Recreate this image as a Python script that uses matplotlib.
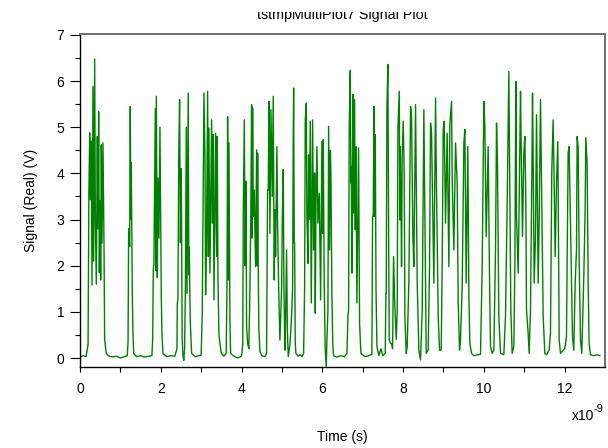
import numpy as np
import matplotlib
matplotlib.use("Agg")
import matplotlib.pyplot as plt
from matplotlib.patches import Rectangle

# Signal trace (time in ns, signal in V)
t_ns = [
    0.0, 0.08, 0.15, 0.19,
    0.2, 0.22, 0.24, 0.256, 0.28, 0.297, 0.322, 0.338, 0.363, 0.38, 0.404, 0.429, 0.445,
    0.462, 0.479, 0.495, 0.512, 0.528, 0.545, 0.569, 0.594, 0.61, 0.65, 0.7, 0.8, 0.9,
    1.0, 1.1, 1.17, 1.19,
    1.205, 1.23, 1.245, 1.258, 1.27, 1.295, 1.31, 1.33, 1.4, 1.5, 1.6, 1.7, 1.78, 1.8,
    1.815, 1.83, 1.865, 1.875, 1.89, 1.914, 1.93, 1.955, 1.98, 2.013, 2.03, 2.055, 2.15,
    2.25, 2.35, 2.4,
    2.41, 2.425, 2.445, 2.466, 2.485, 2.508, 2.53, 2.55, 2.57, 2.59,
    2.61, 2.632, 2.65, 2.68, 2.695, 2.706, 2.73, 2.764, 2.85, 2.95, 3.0,
    3.028, 3.053, 3.069, 3.094, 3.11, 3.135, 3.16, 3.177, 3.193, 3.218, 3.259, 3.276, 3.3,
    3.317, 3.358, 3.383, 3.399, 3.416, 3.44, 3.465, 3.5, 3.56, 3.62,
    3.64, 3.655, 3.672, 3.688, 3.713, 3.73, 3.8, 3.9, 4.0, 4.03,
    4.043, 4.068, 4.09, 4.109, 4.125, 4.15, 4.18, 4.208, 4.23, 4.249, 4.262, 4.274, 4.29,
    4.315, 4.348, 4.373, 4.39, 4.398, 4.414, 4.43, 4.455, 4.5, 4.58, 4.62,
    4.645, 4.662, 4.678, 4.703, 4.728, 4.76, 4.785, 4.81, 4.827, 4.843, 4.876, 4.893, 4.92,
    4.95, 4.975, 4.992, 5.01, 5.033, 5.05, 5.074, 5.09, 5.115, 5.135, 5.157, 5.2, 5.239,
    5.265, 5.28, 5.29, 5.305, 5.314, 5.33, 5.347, 5.4, 5.45, 5.5, 5.537,
    5.562, 5.578, 5.603, 5.619, 5.644, 5.66, 5.68, 5.702, 5.727, 5.743, 5.76, 5.784, 5.809,
    5.826, 5.845, 5.867, 5.892, 5.925, 5.958, 5.99, 6.007, 6.024, 6.048, 6.073, 6.098,
    6.114, 6.139, 6.156, 6.18, 6.2, 6.213, 6.238, 6.26, 6.279, 6.35, 6.45, 6.55, 6.61,
    6.634, 6.651, 6.667, 6.692, 6.708, 6.717, 6.733, 6.758, 6.774, 6.799, 6.816, 6.832,
    6.857, 6.882, 6.898, 6.923, 6.956, 7.05, 7.15, 7.228,
    7.245, 7.261, 7.278, 7.294, 7.311, 7.33, 7.352, 7.4, 7.45, 7.5, 7.558,
    7.575, 7.583, 7.6, 7.624, 7.641, 7.657, 7.69, 7.723, 7.74, 7.764, 7.79, 7.83, 7.855,
    7.872, 7.905, 7.921, 7.93, 7.954, 7.962, 7.979, 8.003, 8.028, 8.045, 8.078, 8.102,
    8.144, 8.185, 8.21, 8.243, 8.267, 8.309, 8.325, 8.35, 8.391, 8.432, 8.474, 8.498,
    8.515, 8.54, 8.573, 8.622, 8.655, 8.68, 8.705, 8.738, 8.762, 8.804, 8.828, 8.87,
    8.903, 8.944, 8.969, 8.993, 9.018, 9.051, 9.092, 9.134, 9.158, 9.2, 9.216, 9.257,
    9.299, 9.34, 9.365, 9.398, 9.422, 9.464, 9.505, 9.53, 9.563, 9.604, 9.629, 9.653,
    9.695, 9.752, 9.85, 9.917, 9.959, 10.0, 10.025, 10.058, 10.107, 10.14, 10.165,
    10.206, 10.248, 10.289, 10.314, 10.338, 10.371, 10.413, 10.495, 10.536, 10.578,
    10.619, 10.644, 10.668, 10.701, 10.742, 10.767, 10.792, 10.808, 10.85, 10.874,
    10.908, 10.924, 10.957, 10.99, 11.015, 11.04, 11.056, 11.097, 11.122, 11.155,
    11.188, 11.205, 11.221, 11.246, 11.279, 11.304, 11.345, 11.37, 11.403, 11.427,
    11.469, 11.51, 11.551, 11.617, 11.65, 11.683, 11.716, 11.741, 11.766, 11.799,
    11.832, 11.865, 11.898, 11.964, 12.005, 12.046, 12.087, 12.112, 12.145, 12.195,
    12.228, 12.261, 12.294, 12.31, 12.335, 12.36, 12.393, 12.426, 12.475, 12.508,
    12.525, 12.558, 12.583, 12.607, 12.64, 12.72, 12.8, 12.87,
]
signal_v = [
    0.02, 0.05, 0.03, 0.25,
    0.3, 3.6, 4.88, 3.43, 4.7, 1.58, 5.88, 2.1, 6.48, 3.0, 1.6, 4.8, 2.8,
    5.34, 1.85, 3.4, 1.69, 4.62, 2.49, 4.66, 2.49, 0.4, 0.1, 0.05, 0.02, 0.04,
    0.0, 0.03, 0.05, 0.35,
    2.8, 2.42, 5.45, 3.0, 4.23, 1.4, 0.6, 0.1, 0.03, 0.05, 0.02, 0.04, 0.05, 0.4,
    1.9, 2.06, 5.4, 1.9, 5.67, 1.74, 3.9, 2.6, 5.0, 1.34, 0.5, 0.1, 0.03,
    0.05, 0.04, 0.2,
    1.2, 1.26, 4.4, 5.6, 2.5, 4.1, 0.4, 0.05, -0.05, 0.2,
    1.55, 5.0, 1.4, 5.74, 1.8, 2.4, 0.8, 0.1, 0.03, 0.05, 0.06,
    1.0, 3.93, 5.74, 4.4, 1.37, 2.85, 5.78, 2.2, 4.98, 1.84, 5.16, 2.92, 4.84,
    1.26, 4.87, 2.2, 4.8, 1.76, 0.5, 0.32, 0.1, 0.04, 0.1,
    1.6, 5.23, 1.69, 4.66, 0.8, 0.1, 0.05, 0.0, 0.04, 0.3,
    3.07, 5.16, 2.0, 3.83, 0.68, 0.32, 0.2, 1.48, 3.2, 5.49, 2.6, 5.42, 3.07,
    3.64, 1.98, 4.51, 2.0, 4.44, 1.91, 0.6, 0.15, 0.05, 0.03, 0.1,
    3.64, 3.64, 5.56, 2.7, 5.38, 3.5, 5.67, 1.69, 3.21, 2.2, 4.58, 2.92, 1.5,
    0.39, 1.0, 1.48, 3.0, 4.08, 1.5, 0.17, 0.8, 2.34, 0.6, 0.03, 0.3, 0.9,
    1.55, 4.77, 5.85, 2.49, 2.5, 0.32, 0.1, 0.04, 0.07, 0.03, 0.1,
    1.55, 5.16, 5.52, 3.07, 2.05, 4.4, 3.0, 5.13, 1.19, 3.14, 5.16, 2.34, 4.01,
    0.97, 3.5, 4.58, 2.92, 3.57, 1.26, 4.69, 2.7, 4.73, 1.55, 0.17, -0.18,
    0.39, 1.0, 5.02, 2.34, 4.5, 3.97, 1.33, 0.3, 0.05, 0.02, 0.05, 0.03, 0.1,
    0.9, 1.04, 5.02, 6.23, 3.79, 4.15, 1.84, 5.71, 3.14, 5.6, 2.78, 4.58,
    1.19, 3.36, 4.55, 0.75, 0.1, 0.03, 0.05, 0.08,
    3.07, 3.07, 5.45, 3.07, 4.84, 1.5, 0.25, 0.05, 0.2, 0.05, 0.1,
    1.4, 1.4, 5.45, 6.36, 2.92, 0.39, 0.32, 0.3, 0.2, 2.2, 1.3, 0.4, 1.0,
    4.95, 5.78, 2.99, 4.58, 2.85, 1.98, 4.4, 5.13, 4.01, 0.9, 0.1, 0.25,
    1.69, 5.45, 5.23, 2.63, 1.98, 5.49, 3.93, 1.62, 0.17, -0.04, 1.04, 3.68,
    5.38, 3.07, 0.1, 0.17, 1.98, 5.09, 4.87, 3.07, 1.62, 5.63, 3.64, 0.9,
    0.17, 0.17, 2.05, 4.93, 5.13, 2.92, 4.87, 1.98, 5.05, 5.56, 3.93, 2.34,
    4.66, 3.79, 1.19, 0.17, 0.39, 1.55, 4.66, 4.95, 1.62, 4.58, 1.41, 0.32,
    0.1, 0.05, 0.07, 0.08, 1.98, 5.56, 5.02, 2.63, 4.58, 1.76, 0.25,
    0.1, 0.17, 2.34, 5.09, 4.22, 0.9, 0.1, 0.07, 0.9, 3.36,
    6.21, 3.5, 1.04, 0.1, 0.25, 1.91, 5.99, 3.07, 1.84, 3.36,
    5.78, 4.66, 2.63, 4.44, 4.8, 3.43, 1.04, 0.54, 0.1, 1.04,
    3.9, 5.74, 4.37, 1.62, 2.63, 5.27, 1.62, 2.99, 5.6, 3.86,
    0.9, 0.1, 0.07, 0.17, 0.54, 4.08, 5.16, 3.79, 2.2, 3.79,
    4.69, 0.39, 0.1, 0.17, 0.21, 0.46, 4.44, 4.58, 2.92, 0.46,
    0.17, 1.62, 2.34, 4.8, 4.58, 2.13, 0.39, 0.1, 1.76, 3.21,
    4.77, 4.22, 1.62, 0.32, 0.07, 0.05, 0.07, 0.05,
]

x_ticks = [0, 2, 4, 6, 8, 10, 12]
y_ticks = [0, 1, 2, 3, 4, 5, 6, 7]

plt.rcParams['font.family'] = ['Liberation Sans', 'DejaVu Sans']
plt.rcParams['font.size'] = 10

fig = plt.figure(figsize=(6.08, 4.48), dpi=100)
ax = fig.add_axes([80 / 608, 81 / 448, 525 / 608, 333 / 448])

ax.plot(t_ns, signal_v, color='#008000', lw=1.0)

ax.set_xlim(0, 13)
ax.set_ylim(-0.195, 7.02)
ax.set_xticks(x_ticks)
ax.set_xticks(np.arange(1, 13, 2), minor=True)
ax.set_yticks(y_ticks)
ax.set_yticks(np.arange(0.5, 7, 1), minor=True)

ax.tick_params(axis='y', which='major', direction='out', length=7.2, width=0.8, pad=4)
ax.tick_params(axis='y', which='minor', direction='out', length=3.6, width=0.8)
ax.tick_params(axis='x', which='both', direction='out', length=3.8, width=0.8, pad=7)

for side in ['left', 'bottom']:
    ax.spines[side].set_color('black')
    ax.spines[side].set_linewidth(1.0)
for side in ['top', 'right']:
    ax.spines[side].set_color('#707070')
    ax.spines[side].set_linewidth(1.4)

ax.set_ylabel('Signal (Real) (V)')
ax.yaxis.set_label_coords(-0.08, 0.5)
ax.set_xlabel('Time (s)')
ax.xaxis.set_label_coords(0.5, -0.19)

# exponent note under right end of the x axis
fig.text(572 / 608, 1 - 420 / 448, 'x10', ha='left', va='baseline')
fig.text(594 / 608, 1 - 412 / 448, '-9', ha='left', va='baseline', fontsize=8)

# title, its top is cut off in the original
fig.text(0.5 * (80 + 605) / 608, 1 - 18.5 / 448, 'tstmpMultiPlot7 Signal Plot',
         ha='center', va='baseline', fontsize=10.3)
fig.add_artist(Rectangle((0, 1 - 12.5 / 448), 1, 12.5 / 448, transform=fig.transFigure,
                         facecolor='white', edgecolor='none', zorder=10))

fig.savefig('out.png', dpi=100)
